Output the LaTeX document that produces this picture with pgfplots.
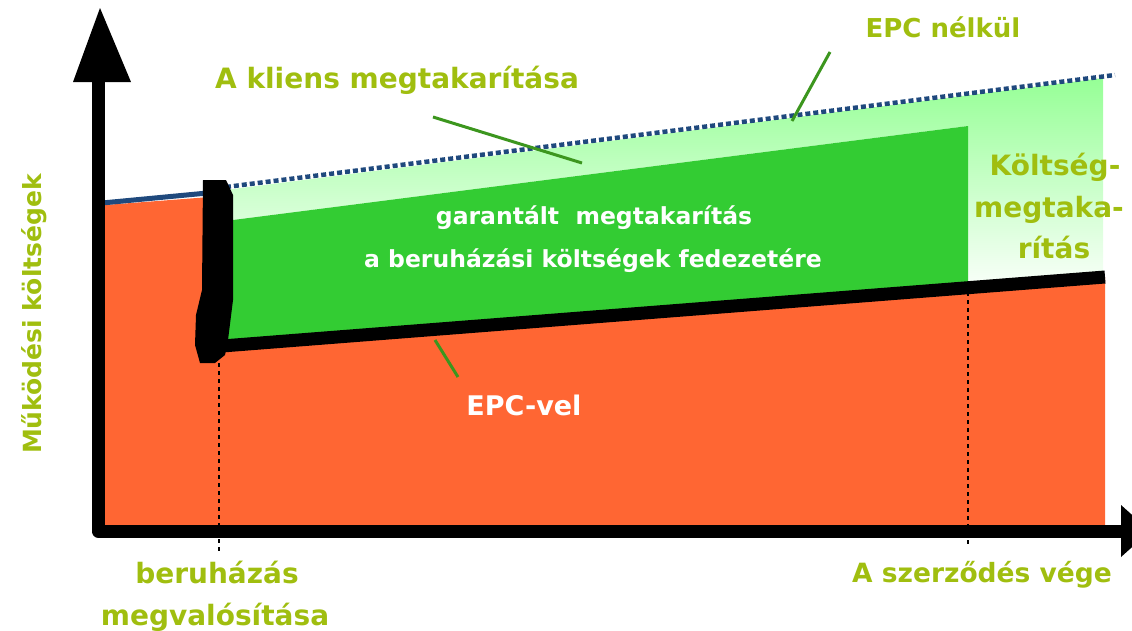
\documentclass[border=0pt]{standalone}
\usepackage{pgfplots}
\pgfplotsset{compat=1.18}
\usepackage{fontspec}
\setmainfont{DejaVu Sans}
\definecolor{orangeF}{RGB}{255,102,51}
\definecolor{darkG}{RGB}{51,204,51}
\definecolor{lgTop}{RGB}{150,255,150}
\definecolor{lgBot}{RGB}{250,255,250}
\definecolor{blueL}{RGB}{31,73,125}
\definecolor{txtG}{RGB}{160,190,15}
\definecolor{leadG}{RGB}{60,150,30}
\begin{document}
\begin{tikzpicture}
\begin{axis}[name=ax, width=1132pt, height=630pt, scale only axis,
  xmin=0, xmax=1132, ymin=0, ymax=630, y dir=reverse,
  hide axis, clip=false, no markers]
% orange (EPC-vel)
\addplot[draw=none, fill=orangeF] coordinates {(105,205) (210,197) (210,347) (1105,277) (1105,525) (105,525)};
% light green (client savings) with gradient
\addplot[draw=none, top color=lgTop, bottom color=lgBot] coordinates {(225,190) (1103,78) (1103,277) (968,288) (968,126) (233,220)};
% dark green (guaranteed savings)
\addplot[draw=none, fill=darkG] coordinates {(233,220) (968,126) (968,290) (225,346)};
% blue solid line on the left
\addplot[blueL, line width=5pt] coordinates {(102,203) (218,192)};
% dotted blue line (EPC nelkul)
\addplot[blueL, line width=4.5pt, dash pattern=on 5pt off 3pt] coordinates {(218,188) (1115,75)};
% black EPC-vel line
\addplot[black, line width=13pt] coordinates {(222,346) (1105,277)};
% thick black vertical bar
\addplot[draw=none, fill=black] coordinates {(203,180) (226,180) (233,195) (233,300) (228,340) (225,355) (215,363) (200,363) (195,345) (196,315) (202,290)};
% dashed verticals
\addplot[black, line width=2.2pt, dash pattern=on 4pt off 4pt] coordinates {(219,363) (219,552)};
\addplot[black, line width=2.2pt, dash pattern=on 4pt off 4pt] coordinates {(968,292) (968,545)};
% axes
\addplot[black, line width=13pt, line join=round] coordinates {(98,80) (98,531) (1122,531)};
\addplot[draw=none, fill=black] coordinates {(73,82) (131,82) (100,8)};
\addplot[draw=none, fill=black] coordinates {(1121,505) (1121,557) (1150,531)};
% leader lines
\addplot[leadG, line width=3pt] coordinates {(433,117) (582,163)};
\addplot[leadG, line width=3pt] coordinates {(830,52) (792,121)};
\addplot[leadG, line width=3pt] coordinates {(435,340) (458,377)};
% texts
\node[anchor=base, text=txtG, font=\fontsize{28pt}{32pt}\selectfont\bfseries] at (axis cs:397,88) {A kliens megtakarítása};
\node[anchor=base, text=txtG, font=\fontsize{26pt}{30pt}\selectfont\bfseries] at (axis cs:943,37) {EPC nélkül};
\node[anchor=base, text=white, font=\fontsize{23.5pt}{28pt}\selectfont\bfseries] at (axis cs:594,224) {garantált\ \ megtakarítás};
\node[anchor=base, text=white, font=\fontsize{23.5pt}{28pt}\selectfont\bfseries] at (axis cs:593,267) {a beruházási költségek fedezetére};
\node[anchor=base, text=txtG, font=\fontsize{28pt}{32pt}\selectfont\bfseries] at (axis cs:1055,175) {Költség-};
\node[anchor=base, text=txtG, font=\fontsize{28pt}{32pt}\selectfont\bfseries] at (axis cs:1049,217) {megtaka-};
\node[anchor=base, text=txtG, font=\fontsize{28pt}{32pt}\selectfont\bfseries] at (axis cs:1054,258) {rítás};
\node[anchor=base, text=white, font=\fontsize{27pt}{32pt}\selectfont\bfseries] at (axis cs:524,415) {EPC-vel};
\node[anchor=base, text=txtG, font=\fontsize{28pt}{32pt}\selectfont\bfseries] at (axis cs:217,583) {beruházás};
\node[anchor=base, text=txtG, font=\fontsize{28pt}{32pt}\selectfont\bfseries] at (axis cs:215,625) {megvalósítása};
\node[anchor=base, text=txtG, font=\fontsize{26.5pt}{32pt}\selectfont\bfseries] at (axis cs:982,582) {A szerződés vége};
\node[anchor=base, rotate=90, text=txtG, font=\fontsize{25pt}{30pt}\selectfont\bfseries] at (axis cs:41,314) {Működési költségek};
\end{axis}
\pgfresetboundingbox
\path[use as bounding box] (ax.south west) rectangle (ax.north east);
\end{tikzpicture}
\end{document}
